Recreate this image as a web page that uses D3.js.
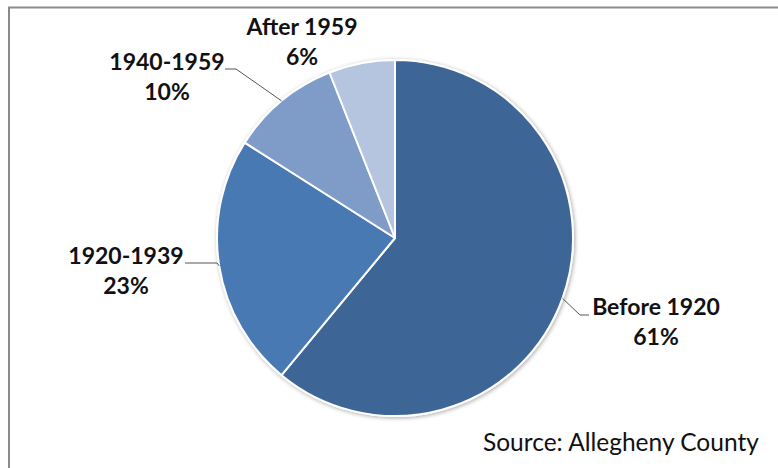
<!DOCTYPE html>
<html><head><meta charset="utf-8">
<script src="https://cdn.jsdelivr.net/npm/d3@7"></script>
<style>body{margin:0;background:#fff}svg{display:block}</style>
</head><body>
<svg id="c" width="778" height="468"></svg>
<script>
const categories = ["Before 1920", "1920-1939", "1940-1959", "After 1959"];
const values = [61, 23, 10, 6];
const labels = ["61%", "23%", "10%", "6%"];
const colors = ["#3d6596", "#4a79b2", "#7f9cc8", "#b5c4df"];
const source = "Source: Allegheny County";

const svg = d3.select("#c");
const W = 778, H = 468;
// frame
svg.append("path").attr("d", `M9,${H} V7.5 H${W}`).attr("fill","none").attr("stroke","#8a8a8a").attr("stroke-width",2);

const cx = 395, cy = 238, r = 178;
const defs = svg.append("defs");
const f = defs.append("filter").attr("id","sh").attr("x","-10%").attr("y","-10%").attr("width","120%").attr("height","120%");
f.append("feGaussianBlur").attr("in","SourceAlpha").attr("stdDeviation",2).attr("result","b");
f.append("feOffset").attr("in","b").attr("dx",1).attr("dy",1).attr("result","o");
f.append("feComponentTransfer").attr("in","o").attr("result","o2").append("feFuncA").attr("type","linear").attr("slope",0.35);
const m = f.append("feMerge"); m.append("feMergeNode").attr("in","o2"); m.append("feMergeNode").attr("in","SourceGraphic");

const data = categories.map((c,i)=>({cat:c, v:values[i], lab:labels[i], col:colors[i]}));
const pie = d3.pie().value(d=>d.v).sort(null);
const arcs = pie(data);
const arc = d3.arc().innerRadius(0).outerRadius(r);
const g = svg.append("g").attr("transform",`translate(${cx},${cy})`);
g.append("g").attr("filter","url(#sh)").selectAll("path").data(arcs).join("path")
  .attr("d",arc).attr("fill",d=>d.data.col).attr("stroke","#fff").attr("stroke-width",2).attr("stroke-linejoin","round");

// label layout
const layout = {
  "Before 1920": {x:656, y:315, lead:[[580,315],[589,315]]},
  "1920-1939":  {x:126, y:264, lead:[[217,263],[185,263]]},
  "1940-1959":  {x:167, y:70,  lead:[[236,69],[225,69]]},
  "After 1959": {x:302, y:35,  lead:null}
};
const edge = d3.arc().innerRadius(r).outerRadius(r);
arcs.forEach(a=>{
  const L = layout[a.data.cat];
  if (L.lead) {
    const p = edge.centroid(a);
    const pts = [[p[0]+cx, p[1]+cy]].concat(L.lead);
    svg.append("path").attr("d", d3.line()(pts)).attr("fill","none").attr("stroke","#555").attr("stroke-width",1);
  }
  const t = svg.append("text").attr("x",L.x).attr("y",L.y).attr("text-anchor","middle")
    .attr("font-family","Lato, 'Open Sans', sans-serif").attr("font-weight","bold").attr("font-size",23).attr("fill","#111");
  t.append("tspan").attr("x",L.x).text(a.data.cat);
  t.append("tspan").attr("x",L.x).attr("dy",30).text(a.data.lab);
});

svg.append("text").attr("x",483).attr("y",451).attr("font-family","Lato, 'Open Sans', sans-serif")
  .attr("font-size",24.5).attr("fill","#111").text(source);
</script>
</body></html>
